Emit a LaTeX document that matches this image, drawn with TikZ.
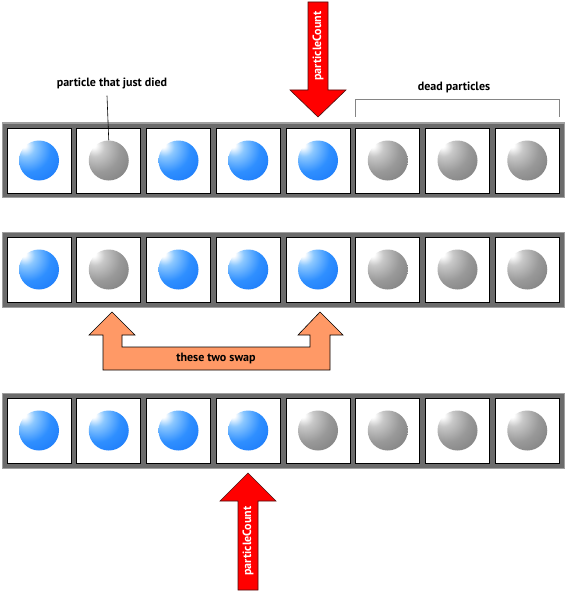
\documentclass[tikz,border=0pt]{standalone}
\usepackage{fontspec}
\setmainfont{PT Sans}
\usepackage{tikz}
\usepackage{xcolor}
\usetikzlibrary{positioning}
\definecolor{barfill}{HTML}{6B6B6B}
\definecolor{barline}{HTML}{A0A0A0}
\definecolor{swapfill}{HTML}{FF9966}
\definecolor{countred}{HTML}{FF0000}
\definecolor{countline}{HTML}{4A1010}
\definecolor{bracketgray}{HTML}{858585}
\definecolor{bluelite}{HTML}{8CC8FF}
\definecolor{bluemid}{HTML}{2F8FFF}
\definecolor{bluedeep}{HTML}{005CF0}
\definecolor{graylite}{HTML}{C8C8C8}
\definecolor{graymid}{HTML}{999999}
\definecolor{graydeep}{HTML}{5C5C5C}
\pgfdeclareradialshading{aliveshade}{\pgfpoint{-20bp}{20bp}}{%
  color(0bp)=(white); color(3bp)=(white); color(12bp)=(bluelite);
  color(28bp)=(bluemid); color(70bp)=(bluedeep); color(90bp)=(bluedeep)}
\pgfdeclareradialshading{deadshade}{\pgfpoint{-20bp}{20bp}}{%
  color(0bp)=(white); color(3bp)=(white); color(12bp)=(graylite);
  color(28bp)=(graymid); color(70bp)=(graydeep); color(90bp)=(graydeep)}
\tikzset{
  bar/.style={draw=barline,fill=barfill,line width=1pt},
  cell/.style={draw=black,fill=white,line width=0.8pt,minimum width=64pt,
               minimum height=65pt,inner sep=0pt},
  alive/.style={circle,minimum size=40pt,inner sep=0pt,shading=aliveshade},
  dead/.style={circle,minimum size=40pt,inner sep=0pt,shading=deadshade},
  lbl/.style={font=\fontsize{12}{14}\selectfont\bfseries,inner sep=1pt},
  countarr/.style={draw=countline,fill=countred,line width=0.6pt},
  swaparr/.style={draw=black,fill=swapfill,line width=0.6pt},
  bracket/.style={draw=bracketgray,line width=0.9pt}
}
\begin{document}
\begin{tikzpicture}[x=1pt,y=-1pt]
  \path[use as bounding box,fill=white] (0,0) rectangle (565,591);
  \draw[bar] (2,123) rectangle (564,197);
  \draw[bar] (2,232) rectangle (564,307);
  \draw[bar] (2,393) rectangle (564,468);
  \foreach \c/\k in {1/alive,2/dead,3/alive,4/alive,5/alive,6/dead,7/dead,8/dead}{
    \node[cell] (r1c\c) at ({39+69.75*(\c-1)},160.5) {};
    \node[\k] (b1c\c) at (r1c\c) {};
    \node[cell] (r2c\c) at ({39+69.75*(\c-1)},269.5) {};
    \node[\k] (b2c\c) at (r2c\c) {};
  }
  \foreach \c/\k in {1/alive,2/alive,3/alive,4/alive,5/dead,6/dead,7/dead,8/dead}{
    \node[cell] (r3c\c) at ({39+69.75*(\c-1)},430.5) {};
    \node[\k] (b3c\c) at (r3c\c) {};
  }
  \node[lbl] (died) at (112,83) {particle that just died};
  \draw[line width=0.6pt] ([xshift=-5pt,yshift=-6pt]died.south) -- (b1c2.north);
  \node[lbl] (deadlbl) at (454,87) {dead particles};
  \draw[bracket] ([yshift=11pt]r1c6.north west) -- ++(0,-17)
    -| ([yshift=11pt]r1c8.north east);
  \draw[countarr] (308,2) -- (328,2) -- (328,90) -- (346,90) -- (318,117)
    -- (290,90) -- (308,90) -- cycle;
  \node[lbl,white,rotate=90] (topcount) at (318,46) {particleCount};
  \draw[swaparr] (112,312) -- (135,335) -- (122,335) -- (122,347) -- (310,347)
    -- (310,335) -- (298,335) -- (320,312) -- (343,335) -- (330,335)
    -- (330,370) -- (103,370) -- (103,335) -- (89,335) -- cycle;
  \node[lbl] (swaplbl) at (216,358) {these two swap};
  \draw[countarr] (238,590) -- (238,501) -- (220,501) -- (248,473) -- (276,501)
    -- (258,501) -- (258,590) -- cycle;
  \node[lbl,white,rotate=90] (botcount) at (248,541) {particleCount};
\end{tikzpicture}
\end{document}
